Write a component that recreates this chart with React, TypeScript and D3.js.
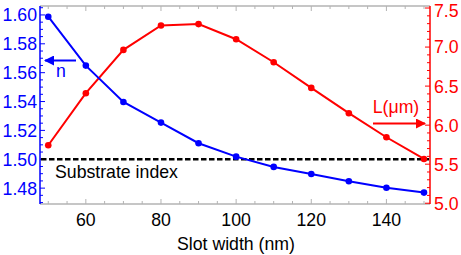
import { useEffect, useRef } from "react"
import * as d3 from "d3"

const slotWidths = [50, 60, 70, 80, 90, 100, 110, 120, 130, 140, 150]
const indexValues = [1.5988, 1.5649, 1.5397, 1.5254, 1.5111, 1.5018, 1.4947, 1.4898, 1.4848, 1.4803, 1.4769]
const lengthValues = [5.742, 6.409, 6.964, 7.276, 7.294, 7.1, 6.806, 6.477, 6.153, 5.845, 5.567]
const substrateIndex = 1.5
const xTicks = [60, 80, 100, 120, 140]
const leftTicks = [1.48, 1.5, 1.52, 1.54, 1.56, 1.58, 1.6]
const rightTicks = [5.0, 5.5, 6.0, 6.5, 7.0, 7.5]

const BLUE = "#0000ff"
const RED = "#ff0000"
const FRAME = "#b3b3b3"
const FONT = "'Liberation Sans', Arial, sans-serif"
const FS = 17.7

export default function App() {
  const svgRef = useRef<SVGSVGElement>(null)

  useEffect(() => {
    if (!svgRef.current) return
    const svg = d3.select(svgRef.current)
    svg.selectAll("*").remove()

    const left = 40
    const right = 430
    const top = 6
    const bottom = 204

    const x = d3.scaleLinear().domain([47.8, 151.6]).range([left, right])
    const yN = d3.scaleLinear().domain([1.469, 1.6062]).range([bottom, top])
    const yL = d3.scaleLinear().domain([4.99, 7.526]).range([bottom, top])

    const g = svg.append("g").attr("font-family", FONT)

    // frame: top and bottom gray
    g.append("line").attr("x1", left).attr("x2", right).attr("y1", top).attr("y2", top)
      .attr("stroke", FRAME).attr("stroke-width", 1.5)
    g.append("line").attr("x1", left).attr("x2", right).attr("y1", bottom).attr("y2", bottom)
      .attr("stroke", FRAME).attr("stroke-width", 1.5)

    // x ticks (bottom + top), major every 20, minor every 5
    d3.range(50, 151, 5).forEach((v) => {
      const major = v % 20 === 0
      const len = major ? 5 : 3
      g.append("line").attr("x1", x(v)).attr("x2", x(v)).attr("y1", bottom).attr("y2", bottom - len)
        .attr("stroke", FRAME).attr("stroke-width", 1)
      g.append("line").attr("x1", x(v)).attr("x2", x(v)).attr("y1", top).attr("y2", top + len)
        .attr("stroke", FRAME).attr("stroke-width", 1)
    })
    g.selectAll("text.xt").data(xTicks).enter().append("text")
      .attr("x", (d) => x(d)).attr("y", 226)
      .attr("text-anchor", "middle").attr("font-size", FS).attr("fill", "#000")
      .text((d) => d)
    g.append("text").attr("x", 236).attr("y", 250).attr("text-anchor", "middle")
      .attr("font-size", FS).attr("fill", "#000").text("Slot width (nm)")

    // left axis (blue)
    g.append("line").attr("x1", left).attr("x2", left).attr("y1", top).attr("y2", bottom)
      .attr("stroke", BLUE).attr("stroke-width", 1.5)
    d3.range(294, 322, 1).forEach((k) => {
      const v = k / 200
      const major = k % 4 === 0
      g.append("line").attr("x1", left).attr("x2", left + (major ? 5 : 3))
        .attr("y1", yN(v)).attr("y2", yN(v)).attr("stroke", BLUE).attr("stroke-width", 1)
    })
    g.selectAll("text.lt").data(leftTicks).enter().append("text")
      .attr("x", 37).attr("y", (d) => Math.max(yN(d) + 6.4, 16.5))
      .attr("text-anchor", "end").attr("font-size", FS).attr("fill", BLUE)
      .text((d) => d.toFixed(2))

    // right axis (red)
    g.append("line").attr("x1", right).attr("x2", right).attr("y1", top).attr("y2", bottom)
      .attr("stroke", RED).attr("stroke-width", 1.5)
    d3.range(50, 76, 1).forEach((k) => {
      const v = k / 10
      if (yL(v) < top - 0.5) return
      const major = k % 5 === 0
      g.append("line").attr("x1", right).attr("x2", right - (major ? 5 : 3))
        .attr("y1", yL(v)).attr("y2", yL(v)).attr("stroke", RED).attr("stroke-width", 1)
    })
    g.selectAll("text.rt").data(rightTicks).enter().append("text")
      .attr("x", 434).attr("y", (d) => Math.max(yL(d) + 6.4, 16.5))
      .attr("text-anchor", "start").attr("font-size", FS).attr("fill", RED)
      .text((d) => d.toFixed(1))

    // substrate index dashed line
    g.append("line").attr("x1", left + 1).attr("x2", right - 1)
      .attr("y1", yN(substrateIndex)).attr("y2", yN(substrateIndex))
      .attr("stroke", "#000").attr("stroke-width", 2.4).attr("stroke-dasharray", "5.5,2.5")
    g.append("text").attr("x", 55).attr("y", 178).attr("font-size", FS).attr("fill", "#000")
      .text("Substrate index")

    // series
    const nPts = slotWidths.map((s, i) => [s, indexValues[i]] as [number, number])
    const lPts = slotWidths.map((s, i) => [s, lengthValues[i]] as [number, number])
    const nLine = d3.line<[number, number]>().x((d) => x(d[0])).y((d) => yN(d[1]))
    const lLine = d3.line<[number, number]>().x((d) => x(d[0])).y((d) => yL(d[1]))

    g.append("path").attr("d", lLine(lPts)).attr("fill", "none").attr("stroke", RED).attr("stroke-width", 2)
    g.selectAll("circle.l").data(lPts).enter().append("circle")
      .attr("cx", (d) => x(d[0])).attr("cy", (d) => yL(d[1])).attr("r", 3.3).attr("fill", RED)

    g.append("path").attr("d", nLine(nPts)).attr("fill", "none").attr("stroke", BLUE).attr("stroke-width", 2)
    g.selectAll("circle.n").data(nPts).enter().append("circle")
      .attr("cx", (d) => x(d[0])).attr("cy", (d) => yN(d[1])).attr("r", 3.3).attr("fill", BLUE)

    // arrows + labels
    const defs = svg.append("defs")
    ;[["arrB", BLUE], ["arrR", RED]].forEach(([id, c]) => {
      defs.append("marker").attr("id", id).attr("viewBox", "0 0 10 10").attr("refX", 9).attr("refY", 5)
        .attr("markerWidth", 5).attr("markerHeight", 5).attr("orient", "auto")
        .append("path").attr("d", "M0,0L10,5L0,10Z").attr("fill", c)
    })
    g.append("line").attr("x1", 76).attr("x2", 45).attr("y1", 60.5).attr("y2", 60.5)
      .attr("stroke", BLUE).attr("stroke-width", 2).attr("marker-end", "url(#arrB)")
    g.append("text").attr("x", 61).attr("y", 77).attr("text-anchor", "middle")
      .attr("font-size", FS).attr("fill", BLUE).text("n")
    g.append("line").attr("x1", 373).attr("x2", 425).attr("y1", 123.5).attr("y2", 123.5)
      .attr("stroke", RED).attr("stroke-width", 2).attr("marker-end", "url(#arrR)")
    g.append("text").attr("x", 396).attr("y", 113).attr("text-anchor", "middle")
      .attr("font-size", FS).attr("fill", RED).text("L(μm)")
  }, [])

  return (
    <svg
      ref={svgRef}
      width={461}
      height={255}
      style={{ position: "absolute", left: 0, top: 0, background: "#fff" }}
    />
  )
}
